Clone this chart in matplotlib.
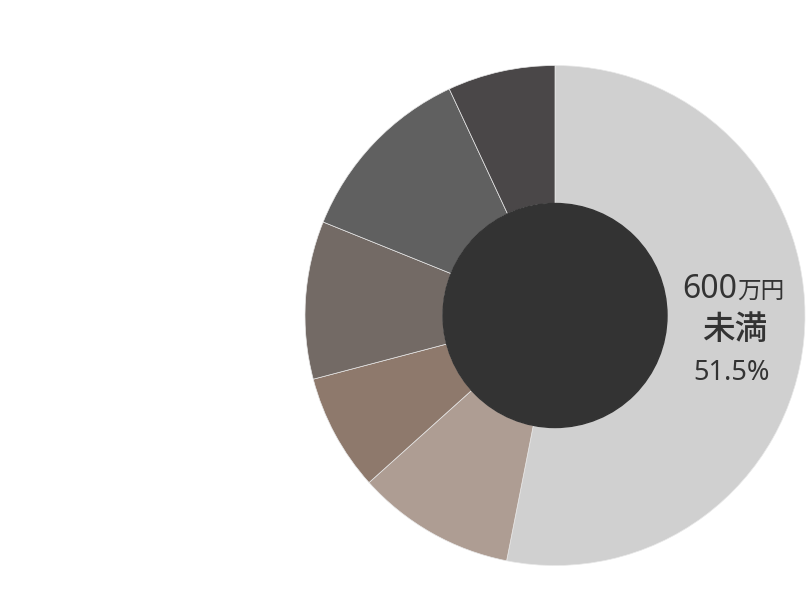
import numpy as np
import matplotlib.pyplot as plt
from matplotlib.patches import Circle

plt.rcParams['font.family'] = ['Noto Sans CJK JP', 'DejaVu Sans']

# shares (clockwise from 12 o'clock)
shares = [53.1, 10.25, 7.55, 10.2, 11.95, 6.95]
colors = ['#d0d0d0', '#ae9d93', '#8e796c', '#736a65', '#606060', '#4a4748']
label_num = '600'
label_unit = '万円'
label_sub = '未満'
label_pct = '51.5%'

W, H = 806, 590
fig = plt.figure(figsize=(W / 100, H / 100), dpi=100)
# square axes holding the ring (radius 250px, centre at 555,315)
ax = fig.add_axes([305 / W, (H - 565.5) / H, 500 / W, 500 / H])

ax.pie(shares, colors=colors, startangle=90, counterclock=False,
       radius=1.0,
       wedgeprops=dict(width=0.552, edgecolor='#e8e8e8', linewidth=0.5))
ax.add_patch(Circle((0, 0), 0.448, color='#333333', zorder=5))

txt = '#333333'
latin = ['Noto Sans', 'Noto Sans CJK JP']
ax.text(0.728, 0.069, label_num, ha='right', va='baseline', fontsize=23,
        family=latin, color=txt, zorder=6)
ax.text(0.730, 0.069, label_unit, ha='left', va='baseline', fontsize=17,
        color=txt, zorder=6)
ax.text(0.718, -0.054, label_sub, ha='center', va='center', fontsize=23.5,
        fontweight='medium', color=txt, zorder=6)
ax.text(0.707, -0.258, label_pct, ha='center', va='baseline', fontsize=19.5,
        family=latin, color=txt, zorder=6)

ax.set_xlim(-1, 1)
ax.set_ylim(-1, 1)
ax.set_aspect('equal')
ax.axis('off')

fig.savefig('out.png', dpi=100)
